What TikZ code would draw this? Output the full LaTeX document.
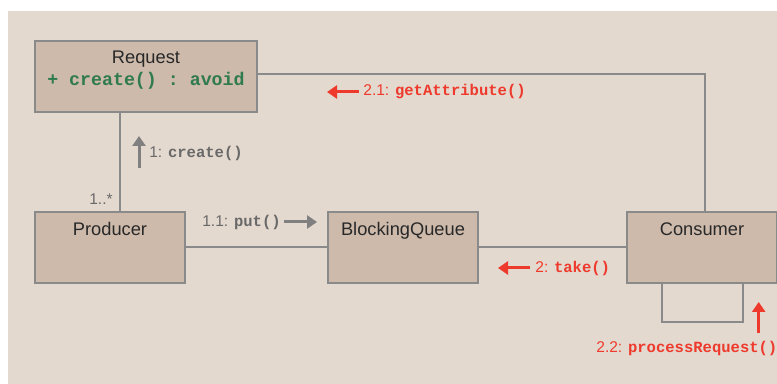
\documentclass[tikz,border=0pt]{standalone}
\usepackage{fontspec}
\setmainfont{Liberation Sans}
\setmonofont{Liberation Mono}
\usepackage{xcolor}
\usepackage{tikz}
\usetikzlibrary{arrows.meta}
\definecolor{bgbeige}{RGB}{228,217,207}
\definecolor{boxfill}{RGB}{205,186,171}
\definecolor{boxgray}{RGB}{138,138,138}
\definecolor{textdark}{RGB}{40,40,40}
\definecolor{codegreen}{RGB}{47,122,78}
\definecolor{msgred}{RGB}{238,58,44}
\definecolor{msggray}{RGB}{128,128,128}
\definecolor{lblgray}{RGB}{105,105,105}
\newcommand{\code}[1]{{\ttfamily\bfseries #1}}

\begin{document}
\begin{tikzpicture}[x=0.02cm,y=-0.02cm,
        cls/.style={draw=boxgray,fill=boxfill,line width=0.04cm,minimum width=3cm,minimum height=1.42cm,
            inner sep=0pt,anchor=north west,text height=0.48cm,text depth=0.94cm,text=textdark,
            font=\fontsize{10.4}{12.5}\selectfont},
        link/.style={draw=boxgray,line width=0.04cm},
        lbl/.style={inner sep=0pt,font=\fontsize{8.85}{10.6}\selectfont},
        gmsg/.style={draw=msggray,line width=0.06cm,-{Triangle[length=0.2cm,width=0.26cm]}},
        rmsg/.style={gmsg,draw=msgred}]
        \useasboundingbox (0,0) rectangle (777,384);
        \fill[bgbeige] (8,11) rectangle (777,384);

        \node[cls,minimum width=4.44cm,text height=0.46cm,text depth=0.96cm] (req) at (34,40)
            {\begin{tabular}[t]{@{}c@{}}Request\\\textcolor{codegreen}{\code{+ create() : avoid}}\end{tabular}};
        \node[cls] (prod) at (34,211) {Producer};
        \node[cls] (queue) at (327,211) {BlockingQueue};
        \node[cls] (cons) at (626,211) {Consumer};

        \draw[link] ([xshift=1.72cm]req.south west) -- ([xshift=1.72cm]prod.north west);
        \draw[link] ([yshift=-0.68cm]req.north east) -| ([xshift=1.58cm]cons.north west);
        \draw[link] (prod.east) -- (queue.west);
        \draw[link] (queue.east) -- (cons.west);
        \draw[link] ([xshift=0.72cm]cons.south west) -- ++(0,38) -| ([xshift=2.34cm]cons.south west);

        \node[lbl,text=lblgray,anchor=east] (mult) at (113,199) {1..*};

        \node[lbl,text=lblgray,anchor=west] (m1) at (149,153) {1: \code{create()}};
        \draw[gmsg] ([xshift=-0.2cm,yshift=-0.3cm]m1.west) -- ++(0,-32);

        \node[lbl,text=lblgray,anchor=west] (m11) at (202,222) {1.1: \code{put()}};
        \draw[gmsg] (m11.east) ++(3,0) -- ++(33,0);

        \node[lbl,text=msgred,anchor=west] (m2) at (535,268) {2: \code{take()}};
        \draw[rmsg] ([xshift=-0.1cm]m2.west) -- ++(-32,0);

        \node[lbl,text=msgred,anchor=west] (m21) at (363,92) {2.1: \code{getAttribute()}};
        \draw[rmsg] ([xshift=-0.08cm]m21.west) -- ++(-32,0);

        \node[lbl,text=msgred,anchor=west] (m22) at (596,348) {2.2: \code{processRequest()}};
        \draw[rmsg] ([xshift=-0.38cm,yshift=0.3cm]m22.east) -- ++(0,-31);
    \end{tikzpicture}
\end{document}
